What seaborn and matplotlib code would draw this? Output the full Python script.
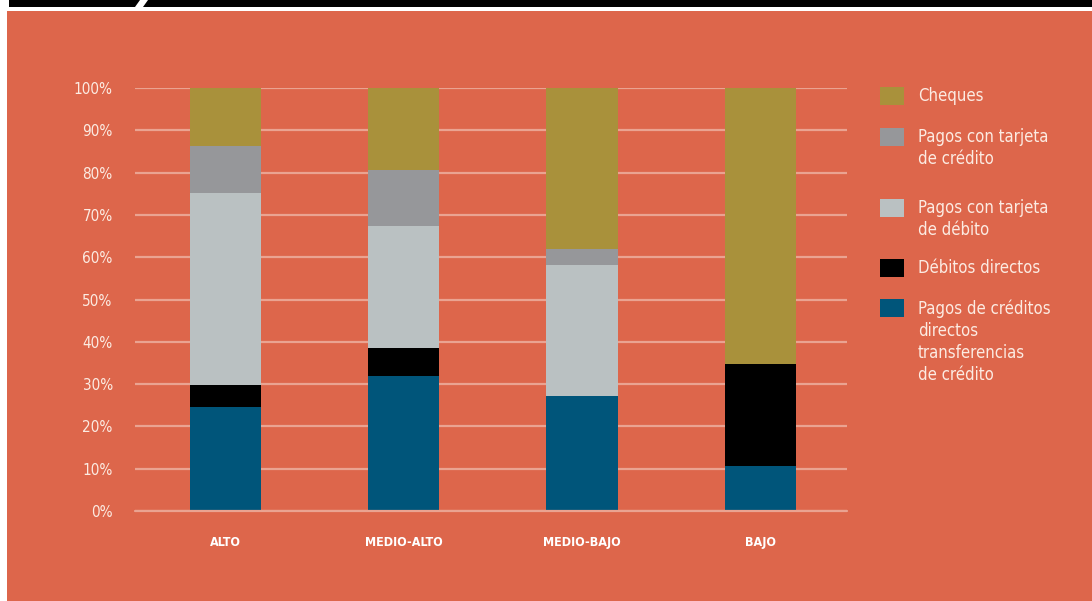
import numpy as np
import pandas as pd
import matplotlib
matplotlib.use("Agg")
import matplotlib.pyplot as plt
from matplotlib.patches import Rectangle, Polygon
import seaborn as sns

# ---- data ----
categories = ["ALTO", "MEDIO-ALTO", "MEDIO-BAJO", "BAJO"]
transfers = [24.6, 31.8, 27.2, 10.6]       # Pagos de créditos directos / transferencias
direct_debits = [5.2, 6.7, 0.0, 24.2]      # Débitos directos
debit_card = [45.4, 28.9, 31.0, 0.0]       # Pagos con tarjeta de débito
credit_card = [11.2, 13.2, 3.7, 0.0]       # Pagos con tarjeta de crédito
cheques = [13.6, 19.4, 38.1, 65.2]         # Cheques
yticks = [0, 10, 20, 30, 40, 50, 60, 70, 80, 90, 100]

series_names = ["Pagos de créditos\ndirectos\ntransferencias\nde crédito",
                "Débitos directos",
                "Pagos con tarjeta\nde débito",
                "Pagos con tarjeta\nde crédito",
                "Cheques"]
series_vals = [transfers, direct_debits, debit_card, credit_card, cheques]
series_colors = ["#00557A", "#000000", "#BAC1C2", "#96979A", "#A9913B"]

BG = "#DD664B"
GRID = "#EAA391"
TXT = "#FCEBE2"

sns.set_theme(style="white")
plt.rcParams["font.family"] = ["DejaVu Sans"]
plt.rcParams["font.stretch"] = "condensed"

W, H = 1092, 601
fig = plt.figure(figsize=(W / 100, H / 100), dpi=100, facecolor="white")

def fx(px):
    return px / W

def fy(py):
    return 1 - py / H

# background decorations
fig.patches.append(Rectangle((fx(7), 0), 1 - fx(7), fy(11), transform=fig.transFigure,
                             facecolor=BG, edgecolor="none", zorder=-5))
fig.patches.append(Rectangle((fx(9), fy(7)), 1 - fx(9), fy(0) - fy(7), transform=fig.transFigure,
                             facecolor="black", edgecolor="none", zorder=-5))
fig.patches.append(Polygon([(fx(140), fy(0)), (fx(148), fy(0)), (fx(143), fy(7)), (fx(135), fy(7))],
                           closed=True, transform=fig.transFigure,
                           facecolor="white", edgecolor="none", zorder=-4))

ax = fig.add_axes([fx(135), fy(511), fx(847) - fx(135), fy(88) - fy(511)])
ax.set_zorder(2)
ax.set_facecolor("none")

df = pd.DataFrame({"cat": categories})
cum = np.cumsum(np.array(series_vals, dtype=float), axis=0)
for i in range(len(series_vals) - 1, -1, -1):
    df["v"] = cum[i]
    sns.barplot(data=df, x="cat", y="v", color=series_colors[i], saturation=1,
                width=0.4, errorbar=None, linewidth=0, edgecolor="none", ax=ax, zorder=2)

ax.set_xlim(-0.507, 3.485)
ax.set_ylim(0, 100)
ax.set_yticks(yticks)
ax.set_yticklabels([f"{t}%" for t in yticks])
ax.set_axisbelow(True)
ax.yaxis.grid(True, color=GRID, linewidth=1.6)
ax.xaxis.grid(False)
ax.axhline(0, color=GRID, linewidth=1.6, zorder=3, clip_on=False)
for s in ax.spines.values():
    s.set_visible(False)
ax.set_xlabel("")
ax.set_ylabel("")
ax.tick_params(axis="y", length=0, pad=16, labelsize=11, labelcolor=TXT)
ax.tick_params(axis="x", length=0, pad=18, labelsize=9, labelcolor="white")
for lab in ax.get_xticklabels():
    lab.set_fontweight("bold")

legend_order = [4, 3, 2, 1, 0]
patch_tops = [87, 128, 199, 259, 299]
for idx, top in zip(legend_order, patch_tops):
    fig.patches.append(Rectangle((fx(880), fy(top + 18)), fx(904) - fx(880), fy(top) - fy(top + 18),
                                 transform=fig.transFigure, facecolor=series_colors[idx],
                                 edgecolor="none", zorder=3))
    fig.text(fx(918), fy(top), series_names[idx], ha="left", va="top",
             fontsize=12, color=TXT, linespacing=1.3)

fig.savefig("out.png", dpi=100, facecolor="white")
